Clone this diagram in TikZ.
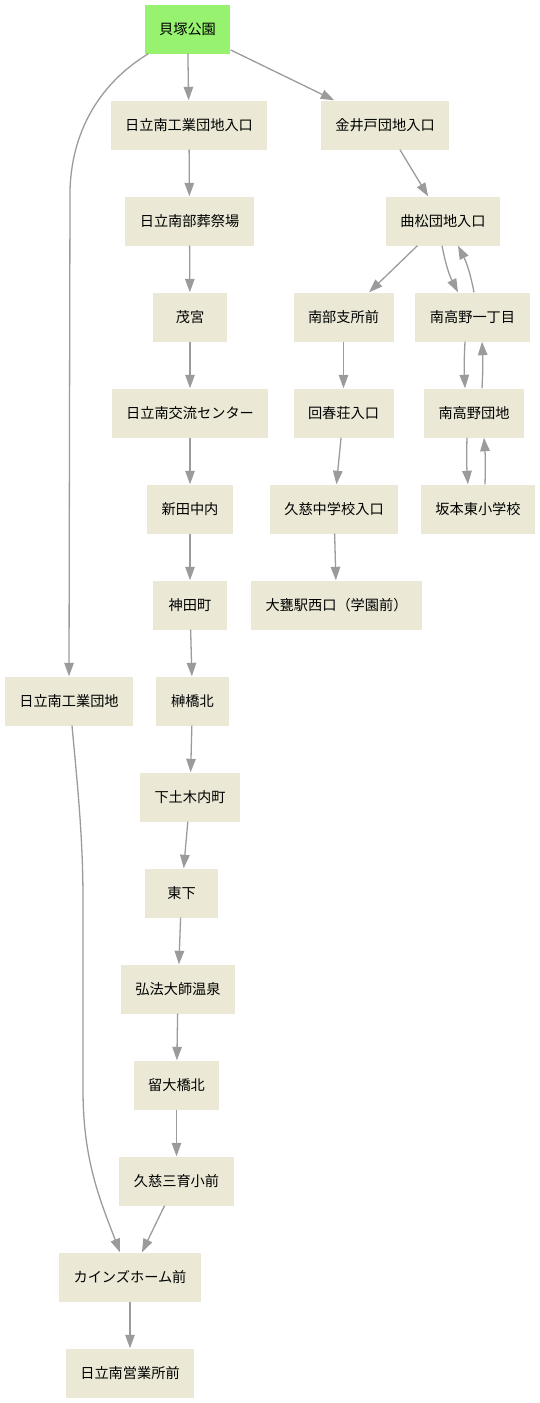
\documentclass[tikz,border=0pt]{standalone}
\usepackage{fontspec}
\newfontfamily\jp{Noto Sans CJK JP}
\usetikzlibrary{arrows.meta,calc}
\definecolor{nodebg}{RGB}{235,233,214}
\definecolor{startbg}{RGB}{151,242,112}
\definecolor{edgec}{RGB}{155,155,155}
\tikzset{
  stop/.style={rectangle, fill=nodebg, draw=none, minimum height=49pt, minimum width=73.5pt,
    inner xsep=14.5pt, inner ysep=0pt, font=\jp\fontsize{14.2}{16}\selectfont, text=black},
  startstop/.style={stop, fill=startbg},
  link/.style={draw=edgec, line width=1.3pt, -{Triangle[length=13.5pt,width=9.5pt]}}
}
\begin{document}
\begin{tikzpicture}[x=1pt,y=1pt]
\useasboundingbox (0,0) rectangle (539,-1403);
\node[startstop] (kaiz) at (187.5,-29) {貝塚公園};
\node[stop] (nkeni) at (189,-125) {日立南工業団地入口};
\node[stop] (kanai) at (385,-125) {金井戸団地入口};
\node[stop] (sousai) at (189.5,-221) {日立南部葬祭場};
\node[stop] (kyoku) at (443,-221) {曲松団地入口};
\node[stop] (nanbu) at (343.5,-317) {南部支所前};
\node[stop] (mt1) at (472.5,-317) {南高野一丁目};
\node[stop] (shige) at (190,-317) {茂宮};
\node[stop] (koryu) at (190,-413) {日立南交流センター};
\node[stop] (kaishun) at (343.5,-413) {回春荘入口};
\node[stop] (mtd) at (474,-413) {南高野団地};
\node[stop] (nitta) at (190,-509) {新田中内};
\node[stop] (kujichu) at (334,-509) {久慈中学校入口};
\node[stop] (saka) at (478,-509) {坂本東小学校};
\node[stop] (kanda) at (190,-605) {神田町};
\node[stop] (omika) at (336.5,-605) {大甕駅西口（学園前）};
\node[stop] (nkogyo) at (69,-701) {日立南工業団地};
\node[stop] (sakaki) at (192.5,-701) {榊橋北};
\node[stop] (shimo) at (190,-797) {下土木内町};
\node[stop] (higashi) at (181.5,-893) {東下};
\node[stop] (kobo) at (178,-989) {弘法大師温泉};
\node[stop] (tome) at (176.5,-1085) {留大橋北};
\node[stop] (sanik) at (176.5,-1181) {久慈三育小前};
\node[stop] (kains) at (130,-1277) {カインズホーム前};
\node[stop] (eigyo) at (130,-1373) {日立南営業所前};

\draw[link] (kaiz) -- (nkeni);
\draw[link] (kaiz) -- (kanai);
\draw[link] ($(kaiz.south west)+(4,0)$) .. controls (105,-80) and (72,-125) .. (70,-190) -- (nkogyo.north);
\draw[link] (nkeni) -- (sousai);
\draw[link] (sousai) -- (shige);
\draw[link] (shige) -- (koryu);
\draw[link] (koryu) -- (nitta);
\draw[link] (nitta) -- (kanda);
\draw[link] (kanda) -- (sakaki);
\draw[link] (sakaki) -- (shimo);
\draw[link] (shimo) -- (higashi);
\draw[link] (higashi) -- (kobo);
\draw[link] (kobo) -- (tome);
\draw[link] (tome) -- (sanik);
\draw[link] (sanik) -- (kains);
\draw[link] (kains) -- (eigyo);
\draw[link] ($(nkogyo.south)+(3,0)$) .. controls (78,-790) and (83,-840) .. (83,-900) -- (83,-1090) .. controls (83,-1160) and (100,-1200) .. ($(kains.north)+(-10,0)$);
\draw[link] (kanai) -- (kyoku);
\draw[link] (kyoku) -- (nanbu);
\draw[link] ($(kyoku.south)+(-1,0)$) to[bend right=8] ($(mt1.north)+(-14.5,0)$);
\draw[link] ($(mt1.north)+(1.5,0)$) to[bend right=8] ($(kyoku.south)+(15,0)$);
\draw[link] ($(mt1.south)+(-7.5,0)$) to[bend right=3] ($(mtd.north)+(-9,0)$);
\draw[link] ($(mtd.north)+(8,0)$) to[bend right=3] ($(mt1.south)+(9.5,0)$);
\draw[link] ($(mtd.south)+(-7,0)$) to[bend right=3] ($(saka.north)+(-10,0)$);
\draw[link] ($(saka.north)+(7,0)$) to[bend right=3] ($(mtd.south)+(10,0)$);
\draw[link] (nanbu) -- (kaishun);
\draw[link] (kaishun) -- (kujichu);
\draw[link] (kujichu) -- (omika);
\end{tikzpicture}
\end{document}
